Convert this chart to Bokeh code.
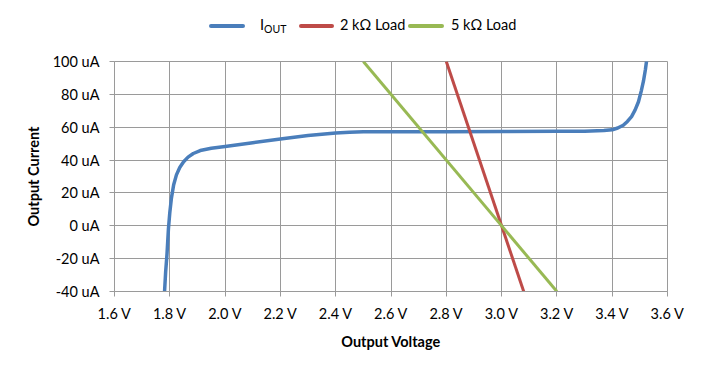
from bokeh.plotting import figure
from bokeh.models import FixedTicker, Div
from bokeh.layouts import column
from bokeh.embed import file_html
from bokeh.resources import INLINE

# ---- data ----
v_out = [1.781, 1.785, 1.790, 1.795, 1.800, 1.806, 1.814, 1.824, 1.836, 1.850,
         1.866, 1.885, 1.910, 1.950, 2.000, 2.100, 2.200, 2.300, 2.400, 2.450,
         2.500, 2.600, 2.800, 3.000, 3.200, 3.300, 3.370, 3.400, 3.420, 3.440,
         3.455, 3.470, 3.483, 3.495, 3.505, 3.513, 3.520, 3.524]
i_out = [-40, -28, -17, -2, 8, 17, 25, 31, 35.5, 39,
         41.8, 44, 45.8, 47.2, 48.3, 50.6, 52.8, 54.9, 56.5, 57.0,
         57.2, 57.3, 57.3, 57.4, 57.5, 57.6, 58.0, 58.4, 59.5, 61.2,
         63.5, 66.5, 70.5, 75.5, 82, 88, 95, 100]
v_2k = [2.8, 3.08]
i_2k = [100, -40]
v_5k = [2.5, 3.2]
i_5k = [100, -40]

x_ticks = [1.6, 1.8, 2.0, 2.2, 2.4, 2.6, 2.8, 3.0, 3.2, 3.4, 3.6]
x_tick_labels = ["1.6 V", "1.8 V", "2.0 V", "2.2 V", "2.4 V", "2.6 V",
                 "2.8 V", "3.0 V", "3.2 V", "3.4 V", "3.6 V"]
y_ticks = [-40, -20, 0, 20, 40, 60, 80, 100]
y_tick_labels = ["-40 uA", "-20 uA", "0 uA", "20 uA", "40 uA", "60 uA",
                 "80 uA", "100 uA"]

series_names = ["I<sub>OUT</sub>", "2 kΩ Load", "5 kΩ Load"]

FONT = "Lato"
GRID = "#9a9a9a"
BLUE = "#4a7ebb"
RED = "#be4b48"
GREEN = "#98b954"
colors = [BLUE, RED, GREEN]

LEG_H = 40

p = figure(width=700, height=365 - LEG_H, x_range=(1.6, 3.6), y_range=(-40, 100),
           output_backend="svg", toolbar_location=None,
           min_border_left=114, min_border_right=33,
           min_border_top=61 - LEG_H, min_border_bottom=74)

p.background_fill_color = "white"
p.border_fill_color = "white"
p.outline_line_color = GRID
p.outline_line_width = 1

p.line(v_out, i_out, line_color=BLUE, line_width=3.5,
       line_cap="round", line_join="round")
p.line(v_2k, i_2k, line_color=RED, line_width=3, line_cap="butt")
p.line(v_5k, i_5k, line_color=GREEN, line_width=3, line_cap="butt")

# axes
p.xaxis.ticker = FixedTicker(ticks=x_ticks)
p.yaxis.ticker = FixedTicker(ticks=y_ticks)
p.xaxis.major_label_overrides = {t: l for t, l in zip(x_ticks, x_tick_labels)}
p.yaxis.major_label_overrides = {t: l for t, l in zip(y_ticks, y_tick_labels)}
for ax in (p.xaxis[0], p.yaxis[0]):
    ax.axis_line_color = GRID
    ax.major_tick_line_color = GRID
    ax.minor_tick_line_color = None
    ax.major_tick_in = 0
    ax.major_tick_out = 5
    ax.major_label_text_font = FONT
    ax.major_label_text_font_size = "14.5px"
    ax.major_label_text_color = "#000000"
    ax.axis_label_text_font = FONT
    ax.axis_label_text_font_size = "14.5px"
    ax.axis_label_text_font_style = "bold"
    ax.axis_label_text_color = "#000000"
p.xaxis.axis_label = "Output Voltage"
p.yaxis.axis_label = "Output Current"
p.xaxis.major_label_standoff = 8
p.yaxis.major_label_standoff = 10
p.xaxis.axis_label_standoff = 8
p.yaxis.axis_label_standoff = 8

p.xgrid.ticker = FixedTicker(ticks=x_ticks)
p.ygrid.ticker = FixedTicker(ticks=y_ticks)
p.grid.grid_line_color = GRID
p.grid.grid_line_width = 1

# legend (HTML, above the plot)
swatch_left = [209, 299, 408]
swatch_width = [36, 35, 36]
text_left = [260, 340, 451]
parts = []
for name, c, sl, sw, tl in zip(series_names, colors, swatch_left, swatch_width, text_left):
    parts.append(
        f'<span style="position:absolute;left:{sl}px;top:24px;width:{sw}px;height:4px;'
        f'border-radius:2px;background:{c}"></span>'
        f'<span style="position:absolute;left:{tl}px;top:16px;line-height:18px;'
        f'white-space:nowrap">{name}</span>'
    )
html = (f'<div style="position:relative;width:700px;height:{LEG_H}px;font-family:Lato;'
        f'font-size:14.5px;color:#000;">' + "".join(parts) +
        '<style>sub{font-size:10.5px;vertical-align:-3px;line-height:0}</style></div>')
legend_div = Div(text=html, width=700, height=LEG_H, margin=0)

layout = column(legend_div, p, spacing=0)

open("out.html", "w").write(file_html(layout, INLINE))
